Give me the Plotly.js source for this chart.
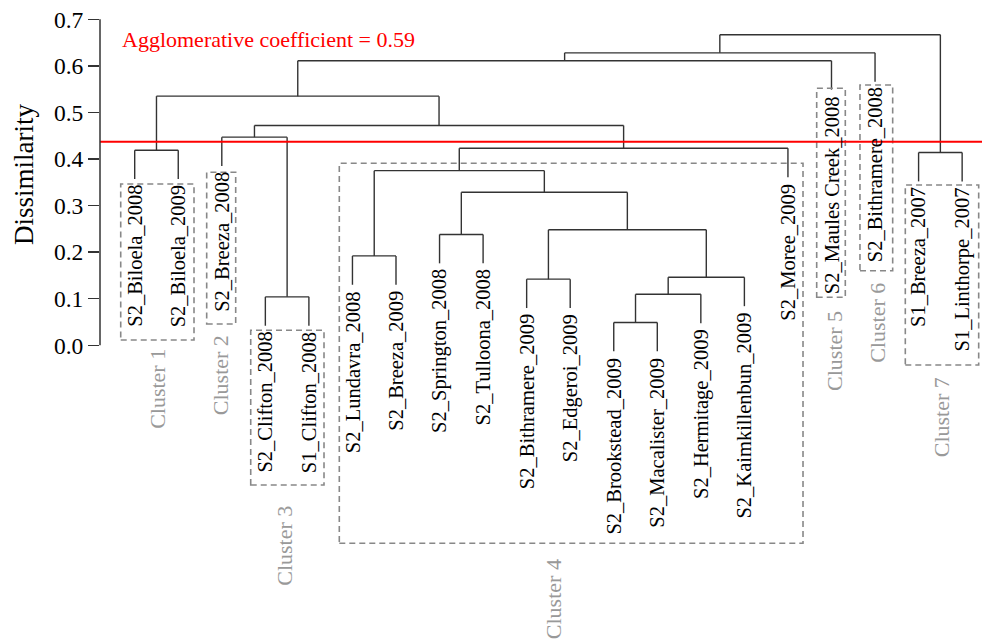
<!DOCTYPE html>
<html><head><meta charset="utf-8">
<script src="https://cdn.plot.ly/plotly-3.0.1.min.js"></script>
<style>html,body{margin:0;padding:0;background:#fff}</style>
</head><body><div id="chart" style="width:982px;height:639px"></div>
<script>
// ---- data ----
const leafLabels = ['S2_Biloela_2008','S2_Biloela_2009','S2_Breeza_2008','S2_Clifton_2008','S1_Clifton_2008',
  'S2_Lundavra_2008','S2_Breeza_2009','S2_Springton_2008','S2_Tulloona_2008','S2_Bithramere_2009',
  'S2_Edgeroi_2009','S2_Brookstead_2009','S2_Macalister_2009','S2_Hermitage_2009','S2_Kaimkillenbun_2009',
  'S2_Moree_2009','S2_Maules Creek_2008','S2_Bithramere_2008','S1_Breeza_2007','S1_Linthorpe_2007'];
// merge children: negative = leaf number (1-based, in plotting order), positive = earlier merge (1-based)
const mergeLeft   = [-12, -4, 1, -10, 3, -6, -8, 4, 7, 6, -19, -1, 10, -3, 14, 12, 16, 17, 18];
const mergeRight  = [-13, -5, -14, -11, -15, -7, -9, 5, 8, 9, -20, -2, -16, 2, 13, 15, -17, -18, 11];
const mergeHeight = [0.049, 0.104, 0.1095, 0.142, 0.146, 0.192, 0.238, 0.248, 0.3285, 0.375, 0.414, 0.419, 0.423, 0.447, 0.472, 0.535, 0.611, 0.628, 0.667];
const hang = 0.062;
const cutHeight = 0.437;
const coefText = 'Agglomerative coefficient = 0.59';
const clusterNames = ['Cluster 1','Cluster 2','Cluster 3','Cluster 4','Cluster 5','Cluster 6','Cluster 7'];
const yTicks = [0, 0.1, 0.2, 0.3, 0.4, 0.5, 0.6, 0.7];
const yTickText = ['0.0','0.1','0.2','0.3','0.4','0.5','0.6','0.7'];

// ---- decoration (layout only) ----
const boxes = [ // [x0, x1, y0, y1] in axis units
  [0.679, 2.362, 0.0114, 0.3464],
  [2.653, 3.319, 0.0457, 0.3715],
  [3.664, 5.347, -0.300, 0.0322],
  [5.698, 16.346, -0.4252, 0.3908],
  [16.66, 17.317, 0.1031, 0.5519],
  [17.654, 18.405, 0.1602, 0.5589],
  [18.695, 20.38, -0.0423, 0.3442]
];
const clusterLabelPos = [[1.505,-0.004],[2.959,0.026],[4.42,-0.341],[10.605,-0.455],[17.08,0.078],[18.04,0.138],[19.53,-0.065]];

// ---- build dendrogram ----
const mergePos = [], mergeTop = [];
const leafParentH = new Array(leafLabels.length).fill(0);
function childInfo(c){
  if (c < 0) return {x: -c, y: null, leaf: -c};
  return {x: mergePos[c-1], y: mergeTop[c-1], leaf: null};
}
const xs = [], ys = [];
for (let i = 0; i < mergeHeight.length; i++) {
  const h = mergeHeight[i];
  const a = childInfo(mergeLeft[i]), b = childInfo(mergeRight[i]);
  [a, b].forEach(c => {
    let y0 = c.y;
    if (c.leaf !== null) { y0 = h - hang; leafParentH[c.leaf-1] = h; }
    xs.push(c.x, c.x, null); ys.push(y0, h, null);
  });
  xs.push(a.x, b.x, null); ys.push(h, h, null);
  mergePos.push((a.x + b.x) / 2); mergeTop.push(h);
}

const serif = 'Liberation Serif, Times New Roman, serif';
const annotations = [];
leafLabels.forEach((lab, i) => {
  annotations.push({x: i+1, y: leafParentH[i] - hang, xref:'x', yref:'y', text: lab, showarrow:false,
    textangle:-90, xanchor:'center', yanchor:'top', yshift:-4, font:{family:serif, size:20.5, color:'#000'}});
});
clusterNames.forEach((n, i) => {
  annotations.push({x: clusterLabelPos[i][0], y: clusterLabelPos[i][1], xref:'x', yref:'y', text:n, showarrow:false,
    textangle:-90, xanchor:'center', yanchor:'top', font:{family:serif, size:22, color:'#999'}});
});
annotations.push({x: 0.6625, y: 0.6577, xref:'x', yref:'y', text: coefText, showarrow:false,
  xanchor:'left', yanchor:'middle', font:{family:serif, size:22, color:'#ff0000'}});
annotations.push({x: 0, y: 0.3657, xref:'paper', yref:'y', xshift:-76, text:'Dissimilarity', showarrow:false,
  textangle:-90, xanchor:'center', yanchor:'middle', font:{family:serif, size:27, color:'#000'}});

const shapes = [];
boxes.forEach(b => shapes.push({type:'rect', xref:'x', yref:'y', x0:b[0], x1:b[1], y0:b[2], y1:b[3],
  line:{color:'#888', width:1.6, dash:'6px,4px'}, fillcolor:'rgba(0,0,0,0)'}));
shapes.push({type:'line', xref:'paper', yref:'y', x0:0, x1:1, y0:cutHeight, y1:cutHeight, line:{color:'#ff0000', width:2}});
shapes.push({type:'line', xref:'paper', yref:'y', x0:0, x1:0, y0:yTicks[0], y1:yTicks[yTicks.length-1], line:{color:'#333', width:1.5}});

const trace = {x: xs, y: ys, type:'scatter', mode:'lines', line:{color:'#333', width:1.4}, hoverinfo:'skip', showlegend:false, cliponaxis:false};

const layout = {
  width:982, height:639, margin:{l:100, r:0, t:0, b:0}, paper_bgcolor:'#fff', plot_bgcolor:'#fff',
  xaxis:{range:[0.2032, 20.456], visible:false, fixedrange:true},
  yaxis:{range:[-0.6307, 0.7415], tickvals:yTicks, ticktext:yTickText, ticks:'outside', ticklen:11, tickwidth:1.5, tickcolor:'#333',
    showgrid:false, zeroline:false, showline:false, tickfont:{family:serif, size:23.5, color:'#000'}, fixedrange:true},
  shapes: shapes, annotations: annotations, showlegend:false
};
Plotly.newPlot('chart', [trace], layout, {displayModeBar:false, staticPlot:true});
</script></body></html>
